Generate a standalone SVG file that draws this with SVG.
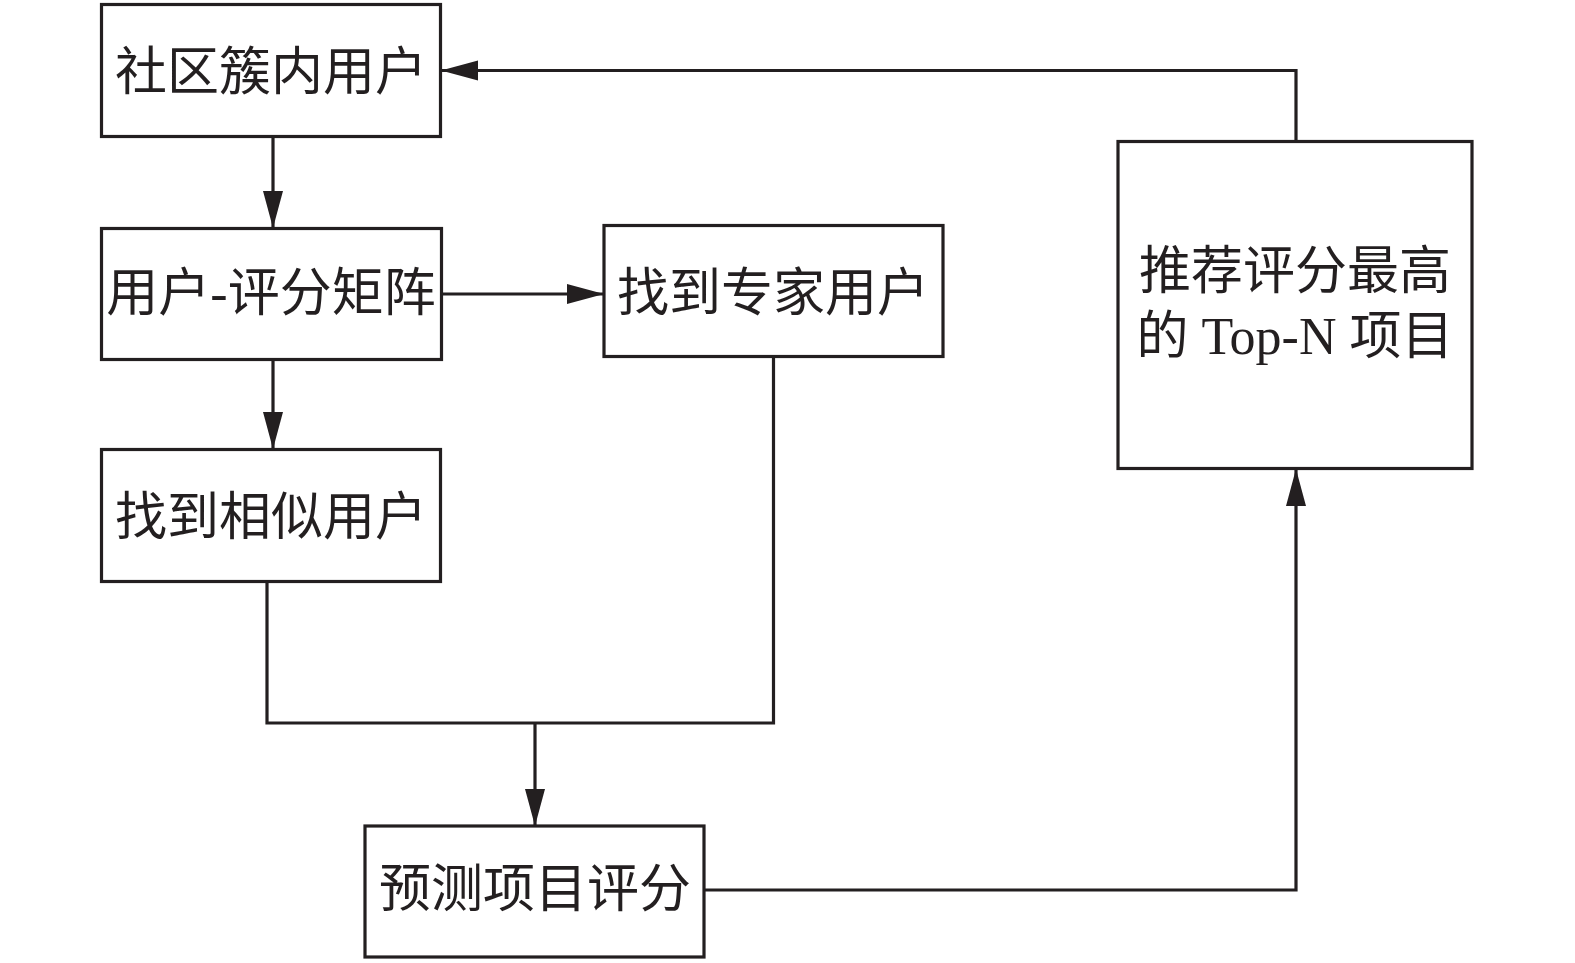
<svg xmlns="http://www.w3.org/2000/svg" width="1575" height="963" viewBox="0 0 1575 963">
<style>
.box{fill:#fff;stroke:#231f20;stroke-width:3.2}
.lbl{font-family:"Liberation Serif","Noto Sans CJK SC",serif;font-size:52px;fill:#231f20;text-anchor:middle}
.conn{fill:none;stroke:#231f20;stroke-width:3.2}
</style>
<defs>
<marker id="arr" markerUnits="userSpaceOnUse" markerWidth="38" markerHeight="22" viewBox="0 0 38 22" refX="37" refY="11" orient="auto">
<path d="M0,1 L37,11 L0,21 Z" fill="#231f20"/>
</marker>
</defs>
<rect width="1575" height="963" fill="#fff"/>
<g id="connectors">
<line class="conn" x1="273" y1="137" x2="273" y2="228" marker-end="url(#arr)"/>
<line class="conn" x1="442" y1="294" x2="604" y2="294" marker-end="url(#arr)"/>
<line class="conn" x1="273" y1="360" x2="273" y2="449" marker-end="url(#arr)"/>
<polyline class="conn" points="267,582 267,723 773.5,723 773.5,357"/>
<line class="conn" x1="535" y1="723" x2="535" y2="826" marker-end="url(#arr)"/>
<polyline class="conn" points="704,890 1296,890 1296,469" marker-end="url(#arr)"/>
<polyline class="conn" points="1296,141 1296,70.5 441,70.5" marker-end="url(#arr)"/>
</g>
<g id="n1">
<rect class="box" x="101.5" y="4.5" width="339" height="132"/>
<text class="lbl" x="271" y="90">社区簇内用户</text>
</g>
<g id="n2">
<rect class="box" x="101.5" y="228.5" width="340" height="131"/>
<text class="lbl" x="271" y="311">用户-评分矩阵</text>
</g>
<g id="n3">
<rect class="box" x="604" y="225.5" width="339" height="131"/>
<text class="lbl" x="773" y="311">找到专家用户</text>
</g>
<g id="n4">
<rect class="box" x="101.5" y="449.5" width="339" height="132"/>
<text class="lbl" x="271" y="535">找到相似用户</text>
</g>
<g id="n5">
<rect class="box" x="365" y="826" width="339" height="131"/>
<text class="lbl" x="535" y="907">预测项目评分</text>
</g>
<g id="n6">
<rect class="box" x="1118" y="141.5" width="354" height="327"/>
<text class="lbl" x="1295" y="289">推荐评分最高</text>
<text class="lbl" x="1295" y="354">的 Top-N 项目</text>
</g>
</svg>
